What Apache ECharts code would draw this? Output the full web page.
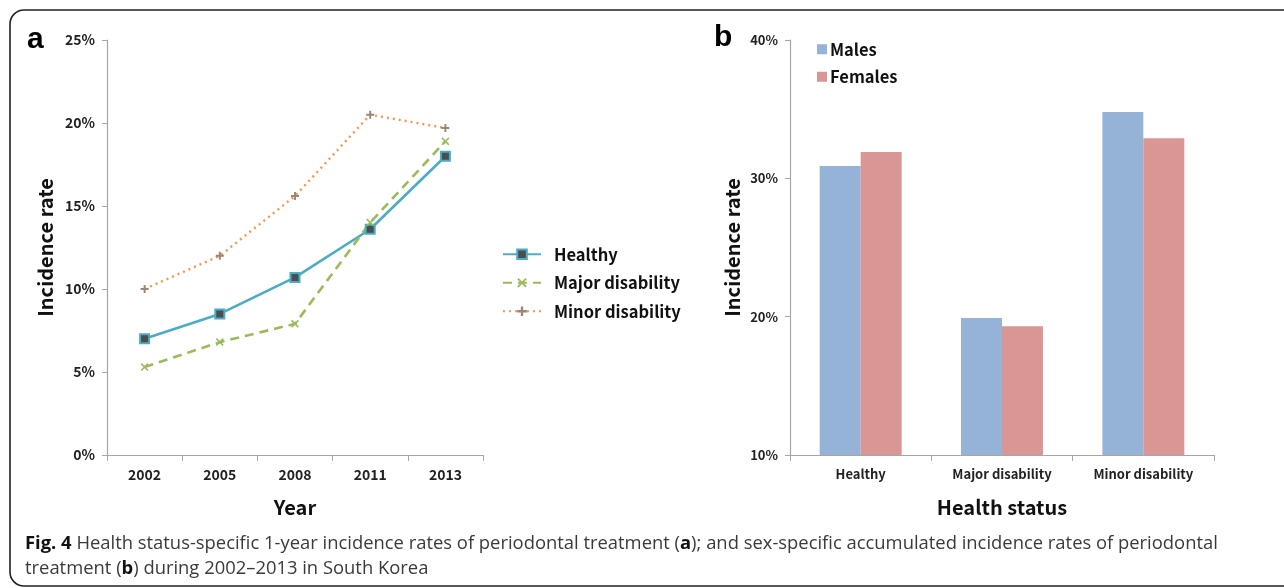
<!DOCTYPE html>
<html>
<head>
<meta charset="utf-8">
<script src="https://cdn.jsdelivr.net/npm/echarts@6/dist/echarts.min.js"></script>
<style>
  html, body { margin: 0; padding: 0; background: #fff; }
  #main { width: 1284px; height: 588px; }
</style>
</head>
<body>
<div id="main"></div>
<script>
// panel a: 1-year incidence rates (%) by year
let years = ['2002', '2005', '2008', '2011', '2013'];
let healthy = [7.0, 8.5, 10.7, 13.6, 18.0];
let majorDisability = [5.3, 6.8, 7.9, 14.0, 18.9];
let minorDisability = [10.0, 12.0, 15.6, 20.5, 19.7];

// panel b: accumulated incidence rates (%) by health status and sex
let statuses = ['Healthy', 'Major disability', 'Minor disability'];
let males = [30.9, 19.9, 34.8];
let females = [31.9, 19.3, 32.9];

let font = '"Noto Sans CJK KR", "Noto Sans", sans-serif';
let axisGray = '#a6a6a6';

let chart = echarts.init(document.getElementById('main'));

let crossPath = 'path://M0,1.4L1.4,0L5,3.6L8.6,0L10,1.4L6.4,5L10,8.6L8.6,10L5,6.4L1.4,10L0,8.6L3.6,5Z';
let plusPath = 'path://M3.8,0H6.2V3.8H10V6.2H6.2V10H3.8V6.2H0V3.8H3.8Z';

let valueAxis = function(gridIndex, min, max, interval, labelSize, gap) {
    return {
        type: 'value',
        gridIndex: gridIndex,
        min: min,
        max: max,
        interval: interval,
        name: 'Incidence rate',
        nameLocation: 'middle',
        nameGap: gap,
        nameTextStyle: { fontFamily: font, fontSize: 20, fontWeight: 'bold', color: '#111' },
        axisLine: { show: true, lineStyle: { color: axisGray, width: 1.2 } },
        axisTick: { show: true, length: 5, lineStyle: { color: axisGray } },
        splitLine: { show: false },
        axisLabel: {
            formatter: '{value}%',
            fontFamily: font,
            fontSize: labelSize,
            fontWeight: 'bold',
            color: '#222',
            margin: 12
        }
    };
};

let categoryAxis = function(gridIndex, data, name, labelSize) {
    return {
        type: 'category',
        gridIndex: gridIndex,
        data: data,
        boundaryGap: true,
        name: name,
        nameLocation: 'middle',
        nameGap: 42,
        nameTextStyle: { fontFamily: font, fontSize: 20, fontWeight: 'bold', color: '#111' },
        axisLine: { lineStyle: { color: axisGray, width: 1.2 } },
        axisTick: { show: true, length: 6, lineStyle: { color: axisGray } },
        axisLabel: { fontFamily: font, fontSize: labelSize, fontWeight: 'bold', color: '#222', margin: 13 }
    };
};

chart.setOption({
    animation: false,
    grid: [
        { left: 107, top: 40, width: 376, height: 415 },
        { left: 790, top: 40, width: 424, height: 415 }
    ],
    xAxis: [
        categoryAxis(0, years, 'Year', 14),
        categoryAxis(1, statuses, 'Health status', 13)
    ],
    yAxis: [
        valueAxis(0, 0, 25, 5, 14, 52),
        valueAxis(1, 10, 40, 10, 13, 48)
    ],
    legend: [
        {
            data: ['Healthy', 'Major disability', 'Minor disability'],
            orient: 'vertical',
            left: 497,
            top: 241,
            itemWidth: 38,
            itemHeight: 12,
            itemGap: 12,
            textStyle: { fontFamily: font, fontSize: 16.5, fontWeight: 'bold', color: '#111', padding: [0, 0, 0, 8] }
        },
        {
            data: ['Males', 'Females'],
            orient: 'vertical',
            left: 812,
            top: 36,
            icon: 'rect',
            itemWidth: 10,
            itemHeight: 10,
            itemGap: 11,
            textStyle: { fontFamily: font, fontSize: 16.5, fontWeight: 'bold', color: '#111', padding: [0, 0, 0, -2] }
        }
    ],
    series: [
        {
            name: 'Healthy',
            type: 'line',
            xAxisIndex: 0,
            yAxisIndex: 0,
            data: healthy,
            symbol: 'rect',
            symbolSize: 9,
            lineStyle: { color: '#4bacc6', width: 2.6 },
            itemStyle: { color: '#4d4d4d', borderColor: '#4bacc6', borderWidth: 2 }
        },
        {
            name: 'Major disability',
            type: 'line',
            xAxisIndex: 0,
            yAxisIndex: 0,
            data: majorDisability,
            symbol: crossPath,
            symbolSize: 8,
            lineStyle: { color: '#9bbb59', width: 2.6, type: [9, 6] },
            itemStyle: { color: '#9bbb59' }
        },
        {
            name: 'Minor disability',
            type: 'line',
            xAxisIndex: 0,
            yAxisIndex: 0,
            data: minorDisability,
            symbol: plusPath,
            symbolSize: 8,
            lineStyle: { color: '#f79646', width: 2.4, type: [2, 4] },
            itemStyle: { color: '#9c8476' }
        },
        {
            name: 'Males',
            type: 'bar',
            xAxisIndex: 1,
            yAxisIndex: 1,
            data: males,
            barGap: '0%',
            barCategoryGap: '42%',
            itemStyle: { color: '#95b3d7' }
        },
        {
            name: 'Females',
            type: 'bar',
            xAxisIndex: 1,
            yAxisIndex: 1,
            data: females,
            itemStyle: { color: '#d99694' }
        }
    ],
    graphic: [
        {
            type: 'rect',
            shape: { x: 10, y: 10, width: 1320, height: 576, r: 14 },
            style: { fill: 'none', stroke: '#222', lineWidth: 1.6 },
            silent: true
        },
        {
            type: 'text',
            left: 27,
            top: 25,
            style: { text: 'a', font: 'bold 30px "Liberation Sans", Arial, sans-serif', fill: '#000' }
        },
        {
            type: 'text',
            left: 714,
            top: 23,
            style: { text: 'b', font: 'bold 30px "Liberation Sans", Arial, sans-serif', fill: '#000' }
        },
        {
            type: 'text',
            left: 25,
            top: 531,
            style: {
                text: '{b|Fig. 4} Health status-specific 1-year incidence rates of periodontal treatment ({b|a}); and sex-specific accumulated incidence rates of periodontal\ntreatment ({b|b}) during 2002\u20132013 in South Korea',
                fontFamily: '"Open Sans", sans-serif',
                fontSize: 18.4,
                lineHeight: 25,
                fill: '#3a3a3a',
                rich: {
                    b: { fontFamily: '"Open Sans", sans-serif', fontSize: 18.4, fontWeight: 'bold', fill: '#111', lineHeight: 25 }
                }
            }
        }
    ]
});
</script>
</body>
</html>
